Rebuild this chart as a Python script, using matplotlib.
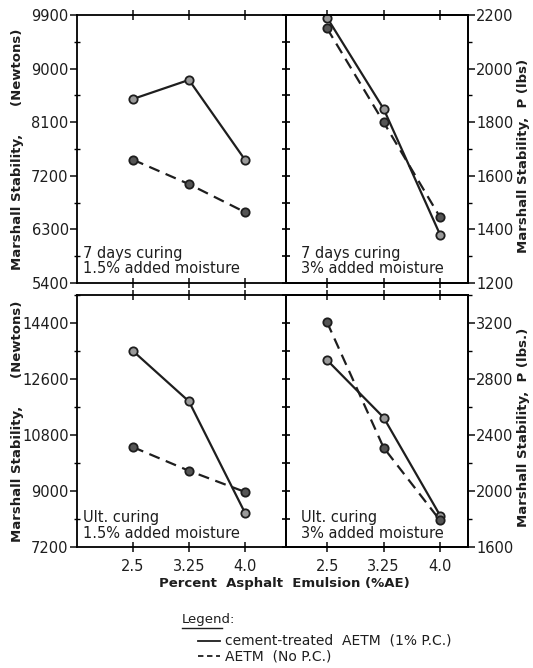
import matplotlib
matplotlib.use('Agg')
import matplotlib.pyplot as plt
from matplotlib.ticker import MultipleLocator

# percent asphalt emulsion
asphalt = [2.5, 3.25, 4.0]
xtick_labels = ['2.5', '3.25', '4.0']

# 7 days curing, 1.5% moisture (Newtons)
d7_m15_cement = [8490, 8810, 7470]
d7_m15_plain = [7470, 7060, 6590]
# 7 days curing, 3% moisture (lbs)
d7_m3_cement = [2190, 1850, 1380]
d7_m3_plain = [2150, 1800, 1445]
# ultimate curing, 1.5% moisture (Newtons)
ult_m15_cement = [13500, 11880, 8300]
ult_m15_plain = [10410, 9650, 8970]
# ultimate curing, 3% moisture (lbs)
ult_m3_cement = [2935, 2525, 1825]
ult_m3_plain = [3205, 2310, 1790]

panel_notes = ['7 days curing\n1.5% added moisture', '7 days curing\n3% added moisture',
               'Ult. curing\n1.5% added moisture', 'Ult. curing\n3% added moisture']

ink = '#1e1e1e'
plt.rcParams['font.family'] = ['DejaVu Sans']
plt.rcParams['axes.linewidth'] = 1.3

fig = plt.figure(figsize=(5.33, 6.68), dpi=100)
W, H = 533., 668.


def box(x0, y0, x1, y1):
    return [x0 / W, 1 - y1 / H, (x1 - x0) / W, (y1 - y0) / H]


def draw(ax, sol, dash):
    ax.plot(asphalt, sol, '-', color=ink, lw=1.6, marker='o', ms=6,
            mfc='#9a9a9a', mec=ink, mew=1.3)
    ax.plot(asphalt, dash, '--', color=ink, lw=1.6, marker='o', ms=6,
            mfc='#555555', mec=ink, mew=1.3, dashes=(5, 3))


rows = [(15, 283, (5400, 9900), 900, (1200, 2200), 200,
         d7_m15_cement, d7_m15_plain, d7_m3_cement, d7_m3_plain),
        (295, 547, (7200, 15300), 1800, (1600, 3400), 400,
         ult_m15_cement, ult_m15_plain, ult_m3_cement, ult_m3_plain)]

for r, (ya, yb, nlim, nstep, plim, pstep, c1, p1, c2, p2) in enumerate(rows):
    axl = fig.add_axes(box(77, ya, 286, yb))
    axr = fig.add_axes(box(286, ya, 468, yb), sharey=axl)
    axp = axr.twinx()

    axl.set_xlim(1.75, 4.55)
    axr.set_xlim(1.955, 4.37)
    axl.set_ylim(*nlim)
    axp.set_ylim(*plim)

    axl.yaxis.set_major_locator(MultipleLocator(nstep))
    axl.yaxis.set_minor_locator(MultipleLocator(nstep / 2))
    axp.yaxis.set_major_locator(MultipleLocator(pstep))
    axp.yaxis.set_minor_locator(MultipleLocator(pstep / 2))
    axl.set_yticks(range(nlim[0], nlim[1] + 1, nstep) if r == 0 else range(7200, 14401, 1800))

    for ax in (axl, axr):
        ax.set_xticks(asphalt)
        ax.set_xticklabels(xtick_labels if r == 1 else [])
        ax.tick_params(axis='x', direction='inout', length=7, width=1.2,
                       top=True, labelsize=10.5, colors=ink, pad=5)

    axl.tick_params(axis='y', which='major', direction='out', length=5, width=1.2,
                    labelsize=10.5, colors=ink, pad=1)
    axl.tick_params(axis='y', which='minor', direction='inout', length=4, width=1)
    axr.tick_params(axis='y', which='both', direction='inout', length=6, width=1.2,
                    left=True, labelleft=False)
    axp.tick_params(axis='y', which='major', direction='out', length=5, width=1.2,
                    labelsize=10.5, colors=ink, pad=1)
    axp.tick_params(axis='y', which='minor', direction='out', length=3, width=1)

    draw(axl, c1, p1)
    draw(axp, c2, p2)

    axl.text(0.03, 0.025, panel_notes[2 * r], transform=axl.transAxes,
             fontsize=10.5, color=ink, va='bottom', linespacing=1.05)
    axr.text(0.08, 0.025, panel_notes[2 * r + 1], transform=axr.transAxes,
             fontsize=10.5, color=ink, va='bottom', linespacing=1.05)

    yc = 1 - (ya + yb) / 2 / H
    fig.text(18 / W, yc, 'Marshall Stability,      (Newtons)', rotation=90,
             ha='center', va='center', fontsize=9.5, fontweight='bold', color=ink)
    fig.text(524 / W, yc - 0.01, 'Marshall Stability,  P (lbs' + (')' if r == 0 else '.)'),
             rotation=90, ha='center', va='center', fontsize=9.5, fontweight='bold', color=ink)

fig.text(284 / W, 1 - 584 / H, 'Percent  Asphalt  Emulsion (%AE)', ha='center',
         va='center', fontsize=9.5, fontweight='bold', color=ink)

fig.text(182 / W, 1 - 620 / H, 'Legend:', ha='left', va='center', fontsize=9.5,
         color=ink)
fig.add_artist(plt.Line2D([182 / W, 222 / W], [1 - 628 / H] * 2, color=ink, lw=1))
fig.add_artist(plt.Line2D([198 / W, 220 / W], [1 - 641 / H] * 2, color=ink, lw=1.3))
fig.add_artist(plt.Line2D([198 / W, 220 / W], [1 - 656 / H] * 2, color=ink, lw=1.3,
                          ls=(0, (3, 2))))
fig.text(225 / W, 1 - 641 / H, 'cement-treated  AETM  (1% P.C.)', ha='left',
         va='center', fontsize=10, color=ink)
fig.text(225 / W, 1 - 656 / H, 'AETM  (No P.C.)', ha='left', va='center',
         fontsize=10, color=ink)

fig.savefig('out.png', dpi=100)
